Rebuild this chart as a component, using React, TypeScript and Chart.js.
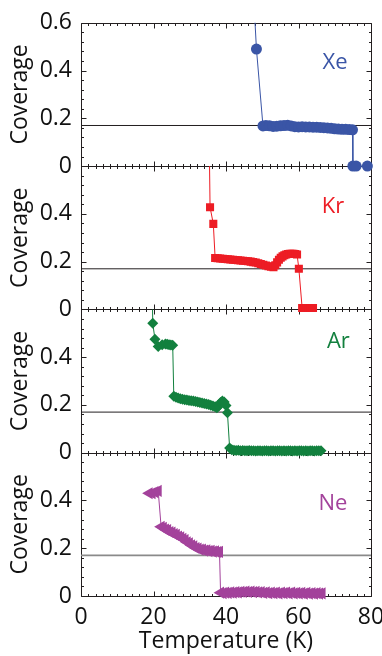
import React, { useEffect, useRef } from 'react';
import { Chart, registerables } from 'chart.js';

Chart.register(...registerables);

// ---------- data (Temperature in K, Coverage) ----------
const xeTemp = [47.3, 48.4, 50.2, 51.0, 52.0, 53.0, 54.0, 55.0, 56.0, 57.0, 58.0, 59.0, 60.0, 61.0, 62.0, 63.0, 64.0, 65.0, 66.0, 67.0, 68.0, 69.0, 70.0, 71.0, 72.0, 73.0, 74.0, 74.9, 75.0, 75.9, 79.0];
const xeCov = [0.8, 0.49, 0.168, 0.170, 0.169, 0.166, 0.167, 0.169, 0.170, 0.171, 0.168, 0.165, 0.164, 0.165, 0.164, 0.164, 0.163, 0.163, 0.162, 0.161, 0.160, 0.158, 0.156, 0.155, 0.154, 0.154, 0.153, 0.152, 0.0, 0.0, 0.0];

const krTemp = [35.3, 35.6, 36.5, 37.0, 37.7, 38.4, 39.1, 39.8, 40.5, 41.2, 41.9, 42.6, 43.3, 44.0, 44.7, 45.4, 46.1, 46.8, 47.5, 48.2, 48.9, 49.6, 50.3, 51.0, 51.7, 52.4, 53.1, 53.6, 54.1, 54.6, 55.1, 55.6, 56.1, 56.6, 57.1, 57.6, 58.1, 58.6, 59.1, 59.6, 60.1, 61.0, 61.6, 62.2, 62.8, 63.4, 64.0];
const krCov = [0.8, 0.428, 0.358, 0.215, 0.214, 0.213, 0.212, 0.211, 0.210, 0.209, 0.208, 0.207, 0.206, 0.205, 0.204, 0.203, 0.202, 0.200, 0.198, 0.196, 0.193, 0.190, 0.187, 0.184, 0.181, 0.179, 0.177, 0.185, 0.197, 0.208, 0.216, 0.222, 0.227, 0.230, 0.232, 0.233, 0.233, 0.233, 0.232, 0.230, 0.170, 0.006, 0.006, 0.006, 0.006, 0.006, 0.006];

const arTemp = [19.5, 19.8, 20.4, 21.3, 22.4, 23.3, 23.8, 24.3, 24.8, 25.3, 25.6, 26.2, 26.8, 27.4, 28.0, 28.6, 29.2, 29.8, 30.4, 31.0, 31.6, 32.2, 32.8, 33.4, 34.0, 34.6, 35.2, 35.8, 36.4, 37.0, 37.5, 38.0, 38.5, 39.0, 39.5, 40.0, 40.4, 41.0, 41.6, 42.2, 42.8, 43.4, 44.0, 44.6, 45.2, 45.8, 46.4, 47.0, 47.6, 48.2, 48.8, 49.4, 50.0, 50.6, 51.2, 51.8, 52.4, 53.0, 53.6, 54.2, 54.8, 55.4, 56.0, 56.6, 57.2, 57.8, 58.4, 59.0, 59.6, 60.2, 60.8, 61.4, 62.0, 62.6, 63.2, 63.8, 64.4, 65.0, 65.6, 66.2];
const arCov = [0.8, 0.542, 0.475, 0.445, 0.452, 0.455, 0.454, 0.452, 0.451, 0.450, 0.236, 0.232, 0.229, 0.226, 0.224, 0.222, 0.221, 0.219, 0.218, 0.216, 0.214, 0.212, 0.210, 0.208, 0.206, 0.204, 0.202, 0.199, 0.196, 0.192, 0.188, 0.196, 0.210, 0.216, 0.212, 0.198, 0.167, 0.020, 0.012, 0.010, 0.009, 0.010, 0.008, 0.009, 0.008, 0.008, 0.009, 0.008, 0.008, 0.007, 0.008, 0.008, 0.007, 0.008, 0.008, 0.007, 0.008, 0.008, 0.007, 0.008, 0.008, 0.007, 0.008, 0.007, 0.008, 0.008, 0.007, 0.008, 0.007, 0.008, 0.008, 0.007, 0.008, 0.007, 0.008, 0.008, 0.007, 0.008, 0.008, 0.008];

const neTemp = [18.8, 19.6, 20.4, 21.3, 22.1, 22.7, 23.3, 23.9, 24.5, 25.1, 25.7, 26.3, 26.9, 27.5, 28.1, 28.7, 29.3, 29.9, 30.5, 31.1, 31.7, 32.3, 32.9, 33.5, 34.1, 34.7, 35.3, 35.9, 36.5, 37.1, 37.7, 38.2, 38.5, 39.2, 39.9, 40.6, 41.3, 42.0, 42.7, 43.4, 44.1, 44.8, 45.5, 46.2, 46.9, 47.6, 48.3, 49.0, 49.7, 50.4, 51.1, 51.8, 52.5, 53.2, 53.9, 54.6, 55.3, 56.0, 56.7, 57.4, 58.1, 58.8, 59.5, 60.2, 60.9, 61.6, 62.3, 63.0, 63.7, 64.4, 65.1, 65.8, 66.5];
const neCov = [0.430, 0.430, 0.435, 0.440, 0.290, 0.286, 0.278, 0.276, 0.268, 0.266, 0.259, 0.256, 0.249, 0.246, 0.239, 0.234, 0.225, 0.221, 0.212, 0.208, 0.201, 0.199, 0.194, 0.194, 0.190, 0.191, 0.188, 0.189, 0.186, 0.187, 0.184, 0.185, 0.014, 0.012, 0.014, 0.013, 0.015, 0.014, 0.016, 0.015, 0.018, 0.017, 0.019, 0.017, 0.019, 0.016, 0.018, 0.015, 0.016, 0.013, 0.015, 0.012, 0.014, 0.012, 0.014, 0.011, 0.014, 0.012, 0.014, 0.011, 0.014, 0.011, 0.013, 0.011, 0.013, 0.010, 0.013, 0.010, 0.012, 0.010, 0.012, 0.010, 0.011];

const gasNames = ['Xe', 'Kr', 'Ar', 'Ne'];
const xTickLabels = ['0', '20', '40', '60', '80'];
const yTickLabels = ['0', '0.2', '0.4', '0.6'];
const refCoverage = 0.17;

// ---------- styling ----------
const FONT = 'Open Sans';
const TEXT = '#111111';
const FRAME = '#231f20';

const panels = [
  { id: 'yXe', name: gasNames[0], t: xeTemp, c: xeCov, color: '#3a55a6', style: 'circle', r: 5.5, rot: 0, refColor: FRAME, refW: 1, lx: 70.1, ly: 0.405 },
  { id: 'yKr', name: gasNames[1], t: krTemp, c: krCov, color: '#ed1c24', style: 'rect', r: 5.7, rot: 0, refColor: FRAME, refW: 1, lx: 69.5, ly: 0.403 },
  { id: 'yAr', name: gasNames[2], t: arTemp, c: arCov, color: '#12803e', style: 'rectRot', r: 5.5, rot: 0, refColor: FRAME, refW: 1, lx: 71, ly: 0.437 },
  { id: 'yNe', name: gasNames[3], t: neTemp, c: neCov, color: '#a3429b', style: 'triangle', r: 7, rot: -90, refColor: '#8a8a8a', refW: 1.6, lx: 69.5, ly: 0.358 },
];

const framePlugin = {
  id: 'panelFrames',
  beforeDatasetsDraw(chart: any) {
    const ctx = chart.ctx;
    const xs = chart.scales.x;
    ctx.save();
    ctx.strokeStyle = FRAME;
    ctx.lineWidth = 1;
    panels.forEach((p) => {
      const ys = chart.scales[p.id];
      const top = Math.round(ys.top) + 0.5;
      const bottom = Math.round(ys.bottom) + 0.5;
      const left = Math.round(xs.left) + 0.5;
      const right = Math.round(xs.right) + 0.5;
      ctx.beginPath();
      ctx.rect(left, top, right - left, bottom - top);
      // x ticks every 2 K
      for (let t = 0; t <= 80; t += 2) {
        const px = Math.round(xs.getPixelForValue(t)) + 0.5;
        const len = t % 20 === 0 ? 5 : 2.5;
        ctx.moveTo(px, bottom);
        ctx.lineTo(px, bottom - len);
        ctx.moveTo(px, top);
        ctx.lineTo(px, top + len);
      }
      // y ticks every 0.04
      for (let i = 0; i <= 15; i++) {
        const py = Math.round(ys.getPixelForValue(i * 0.04)) + 0.5;
        const len = i % 5 === 0 ? 5 : 2.5;
        ctx.moveTo(left, py);
        ctx.lineTo(left + len, py);
        ctx.moveTo(right, py);
        ctx.lineTo(right - len, py);
      }
      ctx.stroke();
    });
    ctx.restore();
  },
  afterDatasetsDraw(chart: any) {
    const ctx = chart.ctx;
    const xs = chart.scales.x;
    ctx.save();
    ctx.font = `22px "${FONT}"`;
    ctx.textAlign = 'center';
    ctx.textBaseline = 'alphabetic';
    panels.forEach((p) => {
      const ys = chart.scales[p.id];
      ctx.fillStyle = p.color;
      ctx.fillText(p.name, xs.getPixelForValue(p.lx), ys.getPixelForValue(p.ly));
    });
    ctx.restore();
  },
};

export default function App() {
  const ref = useRef<HTMLCanvasElement | null>(null);

  useEffect(() => {
    if (!ref.current) return;
    const tickFont = { family: FONT, size: 23 };
    const datasets: any[] = [];
    panels.forEach((p) => {
      datasets.push({
        label: p.name,
        data: p.t.map((t, i) => ({ x: t, y: p.c[i] })),
        xAxisID: 'x',
        yAxisID: p.id,
        showLine: true,
        borderColor: p.color,
        borderWidth: 1,
        backgroundColor: p.color,
        pointBackgroundColor: p.color,
        pointBorderColor: p.color,
        pointBorderWidth: 0,
        pointStyle: p.style,
        pointRadius: p.r,
        pointRotation: p.rot,
        clip: { left: 12, right: 12, top: 0, bottom: 12 },
        order: 1,
      });
      datasets.push({
        label: p.name + ' ref',
        data: [{ x: 0, y: refCoverage }, { x: 80, y: refCoverage }],
        xAxisID: 'x',
        yAxisID: p.id,
        showLine: true,
        borderColor: p.refColor,
        borderWidth: p.refW,
        pointRadius: 0,
        order: 10,
      });
    });

    const scales: any = {
      x: {
        type: 'linear',
        position: 'bottom',
        min: 0,
        max: 80,
        grid: { display: false, drawTicks: false },
        border: { display: false },
        ticks: {
          stepSize: 20,
          autoSkip: false,
          maxRotation: 0,
          padding: 8,
          color: TEXT,
          font: tickFont,
          callback: (v: number) => xTickLabels[Math.round(v / 20)] ?? '',
        },
        title: { display: true, text: 'Temperature (K)', color: TEXT, font: tickFont, padding: { top: 0, bottom: 1 } },
        afterFit: (s: any) => {
          s.height = 60;
          s.paddingLeft = 0;
          s.paddingRight = 0;
        },
      },
    };
    // stacked axes are laid out bottom-up in definition order, so add them reversed
    [...panels].reverse().forEach((p) => {
      const isTop = p.id === panels[0].id;
      scales[p.id] = {
        type: 'linear',
        position: 'left',
        stack: 'coverage',
        stackWeight: 1,
        min: 0,
        max: 0.6,
        grid: { display: false, drawTicks: false },
        border: { display: false },
        ticks: {
          stepSize: 0.2,
          autoSkip: false,
          padding: 9,
          color: TEXT,
          font: tickFont,
          callback: (v: number) => {
            const k = Math.round(v / 0.2);
            if (k === 3 && !isTop) return '';
            return yTickLabels[k] ?? '';
          },
        },
        title: { display: true, text: 'Coverage', color: TEXT, font: tickFont, padding: { top: 7, bottom: 0 } },
        afterFit: (s: any) => {
          s.width = 81;
        },
      };
    });

    const chart = new Chart(ref.current, {
      type: 'scatter',
      data: { datasets },
      options: {
        animation: false,
        responsive: false,
        maintainAspectRatio: false,
        devicePixelRatio: 1,
        layout: { padding: { left: 0, right: 11, top: 15, bottom: 0 } },
        plugins: { legend: { display: false }, tooltip: { enabled: false } },
        scales,
      },
      plugins: [framePlugin],
    } as any);
    return () => chart.destroy();
  }, []);

  return (
    <div style={{ position: 'absolute', left: 0, top: 0, width: 382, height: 656, background: '#fff' }}>
      <canvas ref={ref} width={382} height={656} style={{ display: 'block' }} />
    </div>
  );
}
